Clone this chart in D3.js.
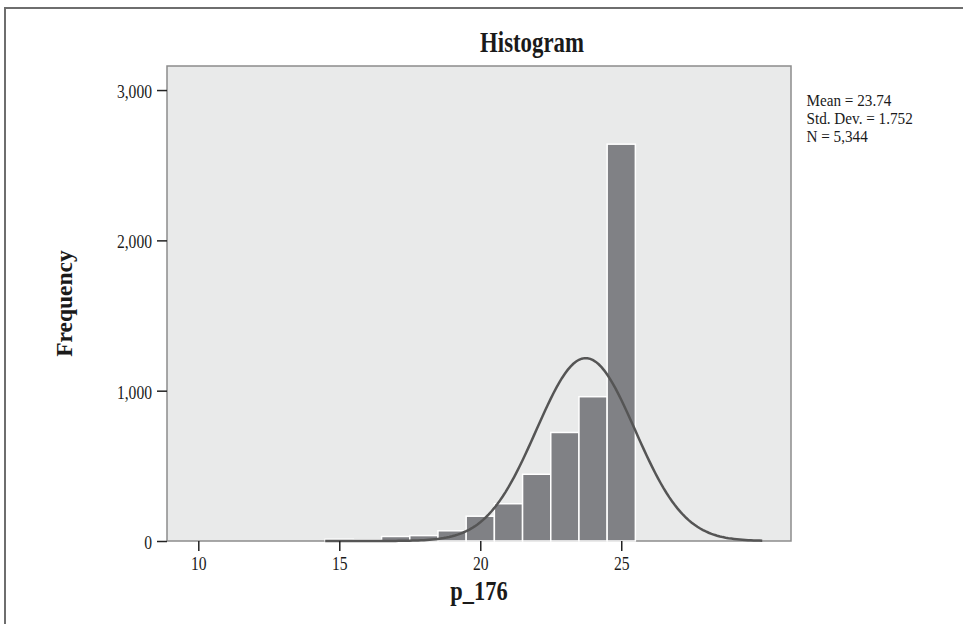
<!DOCTYPE html>
<html>
<head>
<meta charset="utf-8">
<script src="https://cdn.jsdelivr.net/npm/d3@7"></script>
<style>
  body { margin: 0; background: #fff; }
  text { font-family: "Liberation Serif", "Times New Roman", serif; fill: #1a1a1a; }
</style>
</head>
<body>
<script>
// bins (centre of each 1-unit bin) and their frequencies
var binCenters = [15, 16, 17, 18, 19, 20, 21, 22, 23, 24, 25];
var counts = [12, 8, 30, 36, 68, 165, 248, 444, 722, 960, 2640];
var xTicks = [10, 15, 20, 25];
var yTicks = [0, 1000, 2000, 3000];
var statLines = ["Mean = 23.74", "Std. Dev. = 1.752", "N = 5,344"];
var mean = 23.74, sd = 1.752, n = 5344, binWidth = 1;
var curveRange = [14.5, 30];

var W = 963, H = 624;
var plot = {left: 167, right: 791, top: 66, bottom: 541};
var squeezeK = 0.8; // the source picture is squashed horizontally

var svg = d3.select("body").append("svg")
    .attr("width", W)
    .attr("height", H);

// squash text widths like the reference
function squeeze(sel, k) {
  sel.each(function() {
    var w = this.getComputedTextLength();
    d3.select(this).attr("textLength", w * k).attr("lengthAdjust", "spacingAndGlyphs");
  });
}

//outer frame (right and bottom are cut off in the picture)
svg.append("rect")
   .attr("x", 5).attr("y", 8)
   .attr("width", 1100).attr("height", 700)
   .attr("fill", "none")
   .attr("stroke", "#6e6e6e")
   .attr("stroke-width", 2);

var xScale = d3.scaleLinear()
               .domain([8.89, 31.02])
               .range([plot.left, plot.right]);

var yScale = d3.scaleLinear()
               .domain([0, 3160])
               .range([plot.bottom, plot.top]);

//plot background
svg.append("rect")
   .attr("x", plot.left).attr("y", plot.top)
   .attr("width", plot.right - plot.left)
   .attr("height", plot.bottom - plot.top)
   .attr("fill", "#e9eaea")
   .attr("stroke", "#8c8c8c")
   .attr("stroke-width", 1.5);

//bars
svg.selectAll("rect.bar")
   .data(binCenters)
   .enter()
   .append("rect")
   .attr("class", "bar")
   .attr("x", function(d) { return xScale(d - binWidth / 2); })
   .attr("width", function(d) { return xScale(d + binWidth / 2) - xScale(d - binWidth / 2); })
   .attr("y", function(d, i) { return yScale(counts[i]); })
   .attr("height", function(d, i) { return yScale(0) - yScale(counts[i]); })
   .attr("fill", "#808185")
   .attr("stroke", "#ffffff")
   .attr("stroke-width", 1.5);

//normal curve fitted from the stats shown in the legend
var curvePts = [];
for (var x = curveRange[0]; x <= curveRange[1] + 1e-9; x += 0.1) {
  var z = (x - mean) / sd;
  curvePts.push([x, n * binWidth / (sd * Math.sqrt(2 * Math.PI)) * Math.exp(-0.5 * z * z)]);
}
var line = d3.line()
             .x(function(d) { return xScale(d[0]); })
             .y(function(d) { return yScale(d[1]); });

svg.append("path")
   .datum(curvePts)
   .attr("d", line)
   .attr("fill", "none")
   .attr("stroke", "#555555")
   .attr("stroke-width", 2.5);

//Y axis
var yAxis = d3.axisLeft(yScale)
              .tickValues(yTicks)
              .tickFormat(d3.format(","))
              .tickSize(10)
              .tickPadding(5);

var gy = svg.append("g")
    .attr("transform", "translate(" + plot.left + ",0)")
    .call(yAxis);
gy.select(".domain").remove();
gy.selectAll("line").attr("stroke", "#222").attr("stroke-width", 1.5);
gy.selectAll("text")
  .attr("dy", "0.38em")
  .style("font-size", "19.5px")
  .style("font-family", "'Liberation Serif', serif")
  .attr("fill", "#1a1a1a")
  .call(squeeze, squeezeK);

//X axis
var xAxis = d3.axisBottom(xScale)
              .tickValues(xTicks)
              .tickSize(10)
              .tickPadding(5);

var gx = svg.append("g")
    .attr("transform", "translate(0," + plot.bottom + ")")
    .call(xAxis);
gx.select(".domain").remove();
gx.selectAll("line").attr("stroke", "#222").attr("stroke-width", 1.5);
gx.selectAll("text")
  .style("font-size", "19.5px")
  .style("font-family", "'Liberation Serif', serif")
  .attr("fill", "#1a1a1a")
  .call(squeeze, squeezeK);

//titles
svg.append("text")
   .attr("x", 532).attr("y", 52)
   .attr("text-anchor", "middle")
   .style("font-size", "28.5px")
   .style("font-weight", "bold")
   .text("Histogram")
   .call(squeeze, squeezeK);

svg.append("text")
   .attr("x", (plot.left + plot.right) / 2).attr("y", 599.5)
   .attr("text-anchor", "middle")
   .style("font-size", "28px")
   .style("font-weight", "bold")
   .text("p_176")
   .call(squeeze, squeezeK);

svg.append("g")
   .attr("transform", "translate(72," + ((plot.top + plot.bottom) / 2) + ") rotate(-90)")
   .append("text")
   .attr("text-anchor", "middle")
   .style("font-size", "23.5px")
   .style("font-weight", "bold")
   .text("Frequency");

//stats box
svg.selectAll("text.stat")
   .data(statLines)
   .enter()
   .append("text")
   .attr("class", "stat")
   .attr("x", 806.5)
   .attr("y", function(d, i) { return 105.7 + i * 18; })
   .style("font-size", "16.5px")
   .text(function(d) { return d; })
   .call(squeeze, 0.92);
</script>
</body>
</html>
